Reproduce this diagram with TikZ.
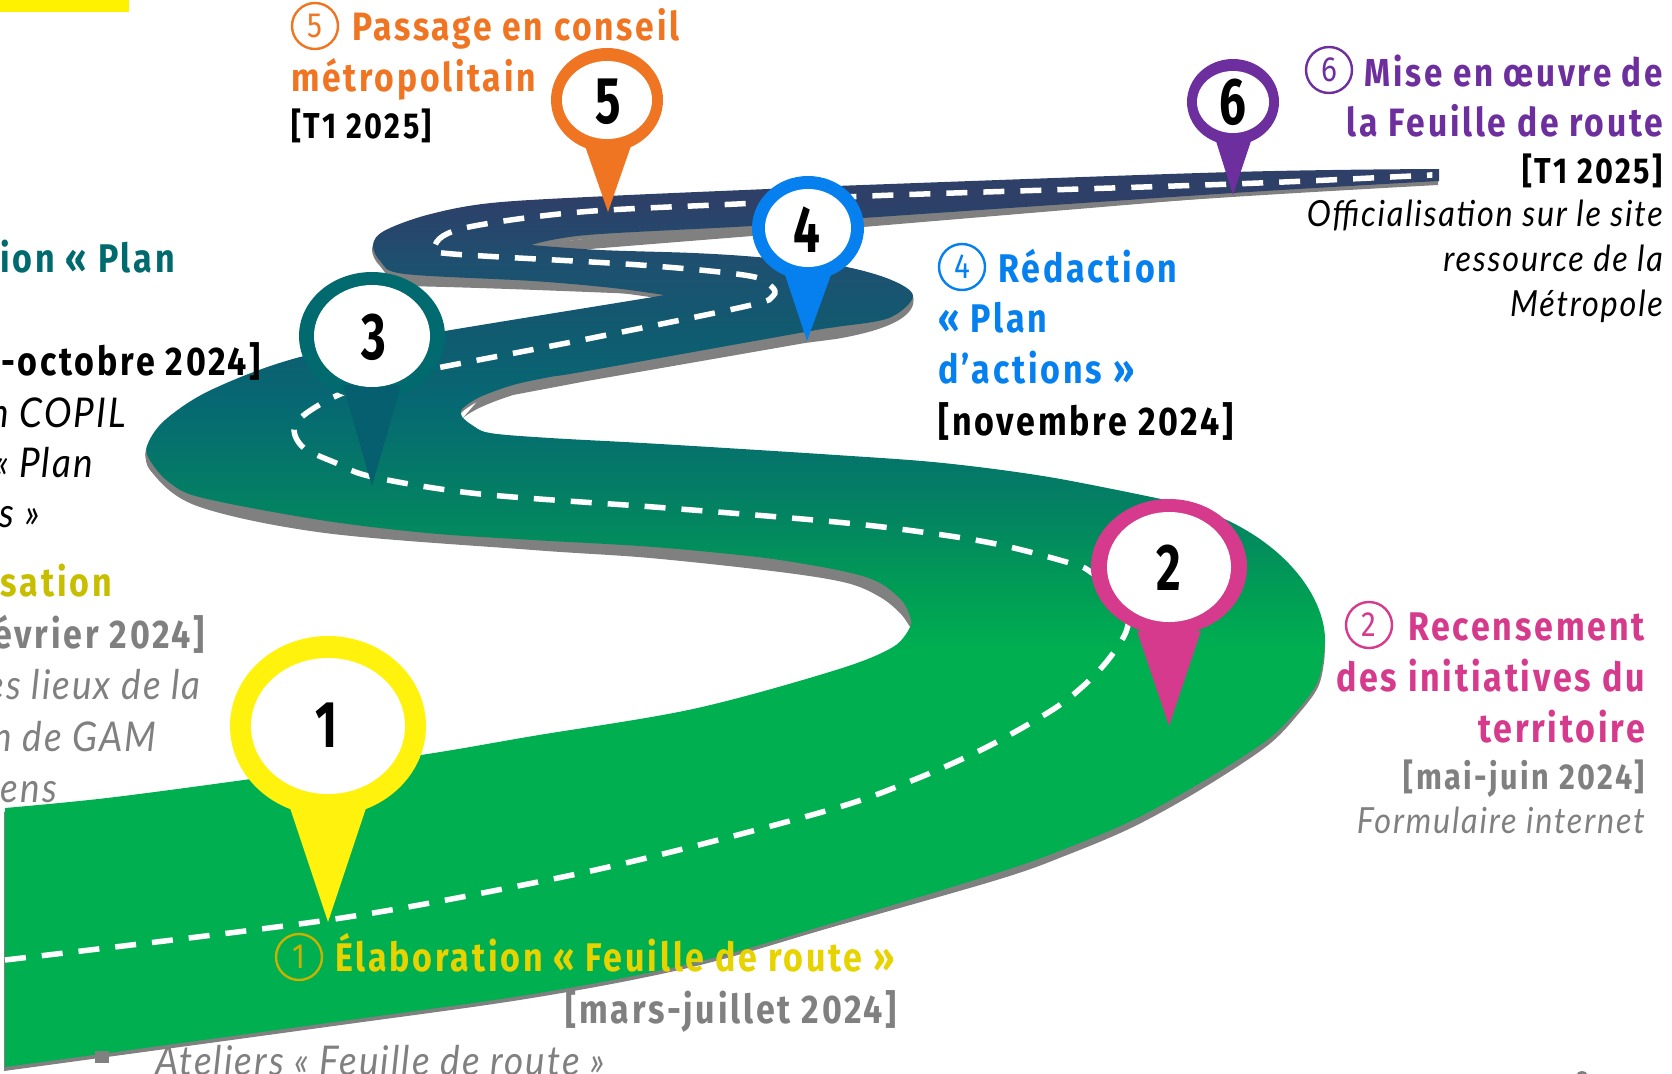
\documentclass[tikz,border=0pt]{standalone}
\usepackage{fontspec}
\setmainfont{Fira Sans}
\newfontfamily\dinb{Fira Sans}[FakeStretch=0.85,LetterSpace=7]
\newfontfamily\dinr{Fira Sans}[FakeStretch=0.85]
\newfontfamily\dint{Fira Sans}[FakeStretch=0.72]
\newfontfamily\lati{Lato}[FakeStretch=0.9,LetterSpace=5]
\definecolor{cYel}{HTML}{FFF20C}
\definecolor{cYelT}{HTML}{E6D300}
\definecolor{cOli}{HTML}{C8BE00}
\definecolor{cGold}{HTML}{C9B100}
\definecolor{cPink}{HTML}{D63A8C}
\definecolor{cTeal}{HTML}{006A6E}
\definecolor{cTealC}{HTML}{065F6E}
\definecolor{cBlue}{HTML}{0580EE}
\definecolor{cOra}{HTML}{F07522}
\definecolor{cPur}{HTML}{6E2F9E}
\definecolor{cGre}{HTML}{808080}
\definecolor{gA}{HTML}{00AF50}
\definecolor{gB}{HTML}{00A054}
\definecolor{gC}{HTML}{038560}
\definecolor{gD}{HTML}{05736B}
\definecolor{gE}{HTML}{066872}
\definecolor{gF}{HTML}{0F5C70}
\definecolor{gG}{HTML}{1E5070}
\definecolor{gH}{HTML}{2E3F68}
\pgfdeclareverticalshading{roadgrad}{100bp}{color(0bp)=(gA);color(48.2bp)=(gA);color(51bp)=(gB);color(55.5bp)=(gC);color(59.4bp)=(gD);color(62.1bp)=(gE);color(65.5bp)=(gF);color(69.7bp)=(gG);color(73.3bp)=(gH);color(100bp)=(gH)}
\def\roadpath{
 plot[smooth,tension=.55] coordinates {(1439,169)(1233,172)(836,186)(768,189)(608,196)(491,203)(427,215)(384,231)(373,245)(381,262)(405,274)(533,281)(613,288)(664,295)}
 -- plot[smooth,tension=.55] coordinates {(664,295)(635,300)(445,331)(304,356)(213,389)(165,420)(147,446)(151,462)(170,483)(203,498)(320,520)(427,533)(533,540)(640,546)(720,553)(780,560)(847,572)(880,583)(903,602)(911,620)(910,627)}
 -- plot[smooth,tension=.55] coordinates {(910,627)(893,647)(836,670)(693,709)(533,736)(421,755)(251,779)(107,798)(5,808)}
 -- (5,1067)
 -- plot[smooth,tension=.55] coordinates {(5,1067)(320,1024)(533,994)(693,963)(836,922)(1000,872)(1067,848)(1133,820)(1200,783)(1267,740)(1300,707)(1317,683)(1323,660)(1325,640)}
 .. controls (1325,590) and (1270,520) .. (1161,499)
 -- plot[smooth,tension=.55] coordinates {(1161,499)(1049,477)(943,463)(836,455)(660,444)(550,438)(490,433)(472,425)(463,418)}
 -- plot[smooth,tension=.55] coordinates {(463,418)(461,414)(463,408)(480,397)(513,385)(550,377)(587,371)(805,332)(836,327)(889,318)(913,296)(889,279)(836,265)(757,257)(693,253)(600,250)(531,245)}
 -- plot[smooth,tension=.55] coordinates {(531,245)(587,235)(752,226)(863,218)(1233,193)(1439,181)}
 -- cycle}
\tikzset{
 headl/.style={anchor=base west,inner sep=0pt,font=\dinb\bfseries\fontsize{40}{40}\selectfont},
 headr/.style={anchor=base east,inner sep=0pt,font=\dinb\bfseries\fontsize{40}{40}\selectfont},
 datel/.style={anchor=base west,inner sep=0pt,font=\dinb\bfseries\fontsize{36}{36}\selectfont},
 dater/.style={anchor=base east,inner sep=0pt,font=\dinb\bfseries\fontsize{36}{36}\selectfont},
 datebig/.style={inner sep=0pt,font=\dinb\bfseries\fontsize{40}{40}\selectfont},
 itr/.style={anchor=base east,inner sep=0pt,font=\lati\itshape\fontsize{36}{36}\selectfont},
 itbig/.style={inner sep=0pt,font=\lati\itshape\fontsize{41}{41}\selectfont},
 ringlab/.style={circle,draw=#1,text=#1,line width=2.4pt,minimum size=46pt,inner sep=0pt,font=\dinr\fontsize{35}{35}\selectfont},
 pindigit/.style={inner sep=0pt,text=black,font=\dint\bfseries\fontsize{66}{66}\selectfont},
}
\newcommand\pinshape[9]{%
 \fill[#1] (#2,#3) ellipse [x radius=#4pt,y radius=#5pt];
 \fill[#1] #8 -- #9 -- cycle;
 \fill[white] (#2,#3) ellipse [x radius=#6pt,y radius=#7pt];
}
\begin{document}
\begin{tikzpicture}[x=1pt,y=-1pt]
\useasboundingbox (0,0) rectangle (1672,1073);
\clip (0,0) rectangle (1672,1073);
\fill[yellow] (0,0) rectangle (129,12);
% road side
\begin{scope}[shift={(-1,4)}]
 \fill[cGre] \roadpath;
\end{scope}
\fill[cGre] plot[smooth,tension=.55] coordinates {(693,966)(836,926)(1000,879)(1067,855)(1133,827)(1200,790)(1267,746)(1300,712)(1318,687)(1324,662)(1325,640)} -- (1200,700) -- (800,850) -- cycle;
\fill[cGre] (373,245) .. controls (373,258) and (388,276) .. (405,286)
  .. controls (500,288) and (610,293) .. (664,295) -- (500,265) -- cycle;
\fill[cGre] (531,245) -- (565,251) -- (752,236) -- (863,227) -- (1233,196) -- (1439,181) -- (1233,185) -- (752,220) -- cycle;
\fill[cGre] (913,296) .. controls (917,312) and (900,328) .. (836,339)
  -- (805,343) -- (587,381) -- (550,388) -- (513,395) .. controls (495,401) and (475,408) .. (463,418) -- (500,375) -- (800,310) -- cycle;
\fill[cGre] plot[smooth,tension=.55] coordinates {(147,446)(150,470)(197,506)(325,533)(533,550)(650,558)(780,572)(847,583)(880,597)(900,613)(910,627)}
  -- (911,610) -- (880,570) -- (780,550) -- (700,520) -- cycle;
% road face
\begin{scope}
 \clip \roadpath;
 \shade[shading=roadgrad] (0,169) rectangle (1672,1067);
\end{scope}
% centre line
\draw[white,line width=5.5pt,dash pattern=on 21pt off 16pt]
 plot[smooth,tension=.55] coordinates {(5,960)(328,920)(533,883)(667,853)(836,808)(916,779)(985,748)(1049,712)(1081,688)(1108,660)(1127,629)(1125,600)(1092,573)(1073,564)(1001,545)(929,533)(836,522)(667,508)(480,494)(373,477)(336,463)(304,448)(294,430)(304,415)(336,396)(380,380)(437,368)(587,339)(747,306)(773,296)(771,286)(747,275.5)(640,265)(453,254)(435,248)(443,236)(469,227)(533,217)(608,210)(757,203)(868,196)(1233,184)(1412,176)(1430,175)};
% pins
\pinshape{cYel}{328}{726}{98}{90}{77}{68}{(288,802) -- (328,922)}{(368,802)}
\pinshape{cPink}{1169}{567}{78}{68}{62}{55}{(1137,631) -- (1169,726)}{(1201,631)}
\fill[cTeal] (372,336) ellipse [x radius=73pt,y radius=64pt];
\fill[cTealC] (343,385) -- (372,486) -- (401,385) -- cycle;
\fill[white] (372,336) ellipse [x radius=58pt,y radius=51pt];
\pinshape{cBlue}{808}{228}{56}{52}{43}{39}{(784,272) -- (807,341)}{(832,272)}
\pinshape{cOra}{607}{100}{56}{52}{45}{39}{(584,143) -- (608,212)}{(632,143)}
\pinshape{cPur}{1233}{102}{46}{43}{36}{31}{(1215,138) -- (1233,195)}{(1252,138)}
\node[pindigit] (d1) at (327,725) {1};
\node[pindigit] (d2) at (1169,568) {2};
\node[pindigit] (d3) at (374,337) {3};
\node[pindigit] (d4) at (807,230) {4};
\node[pindigit] (d5) at (608,102) {5};
\node[pindigit] (d6) at (1233,102) {6};
% label 5
\node[ringlab=cOra] (r5) at (315,26) {5};
\node[headl,text=cOra,font=\dinb\bfseries\fontsize{39.6}{40}\selectfont] (t5a) at (352,41) {Passage en conseil};
\node[headl,text=cOra,font=\dinb\bfseries\fontsize{39.6}{40}\selectfont] (t5b) at (291,91) {métropolitain};
\node[datel,text=black] (t5c) at (291,138) {[T1 2025]};
% label 3 (cut)
\node[headr,text=cTeal] (t3a) at (175,272) {ion « Plan};
\node[datebig,anchor=base east,text=black] (t3b) at (261,375) {-octobre 2024]};
\node[itbig,anchor=base east,text=black] (t3c) at (126,427) {on COPIL};
\node[itbig,anchor=base east,text=black] (t3d) at (93,477) {« Plan};
\node[itbig,anchor=base east,text=black] (t3e) at (40,527) {s »};
% label 0 (cut)
\node[headr,text=cOli] (t0a) at (112,596) {sation};
\node[datebig,anchor=base east,text=cGre] (t0b) at (205,648) {évrier 2024]};
\node[itbig,anchor=base east,text=cGre] (t0c) at (201,699) {es lieux de la};
\node[itbig,anchor=base east,text=cGre] (t0d) at (157,751) {on de GAM};
\node[itbig,anchor=base east,text=cGre] (t0e) at (57,802) {ens};
% label 1
\node[ringlab=cGold] (r1) at (299,957) {1};
\node[headl,text=cYelT] (t1a) at (335,971) {Élaboration « Feuille de route »};
\node[datebig,anchor=base east,text=cGre] (t1b) at (897,1023) {[mars-juillet 2024]};
\fill[cGre] (95,1051) rectangle (109,1063);
\node[itbig,anchor=base west,text=cGre] (t1c) at (155,1075) {Ateliers « Feuille de route »};
\fill[cGre] (1582,1074) ellipse [x radius=5pt,y radius=3pt];
% label 2
\node[ringlab=cPink] (r2) at (1369,625) {2};
\node[headr,text=cPink] (t2a) at (1645,640) {Recensement};
\node[headr,text=cPink] (t2b) at (1645,691) {des initiatives du};
\node[headr,text=cPink] (t2c) at (1645,742) {territoire};
\node[dater,text=cGre] (t2d) at (1645,789) {[mai-juin 2024]};
\node[itr,text=cGre] (t2e) at (1645,833) {Formulaire internet};
% label 4
\node[ringlab=cBlue] (r4) at (962,267) {4};
\node[headl,text=cBlue] (t4a) at (998,282) {Rédaction};
\node[headl,text=cBlue] (t4b) at (938,332) {« Plan};
\node[headl,text=cBlue] (t4c) at (938,383) {d’actions »};
\node[datebig,anchor=base west,text=black] (t4d) at (938,435) {[novembre 2024]};
% label 6
\node[ringlab=cPur] (r6) at (1329,70) {6};
\node[headr,text=cPur,font=\dinb\bfseries\fontsize{39}{40}\selectfont] (t6a) at (1663,86) {Mise en œuvre de};
\node[headr,text=cPur,font=\dinb\bfseries\fontsize{39.6}{40}\selectfont] (t6b) at (1663,136) {la Feuille de route};
\node[dater,text=black] (t6c) at (1663,183) {[T1 2025]};
\node[itr,text=black] (t6d) at (1663,226) {Officialisation sur le site};
\node[itr,text=black] (t6e) at (1663,271) {ressource de la};
\node[itr,text=black] (t6f) at (1663,316) {Métropole};
\end{tikzpicture}
\end{document}
